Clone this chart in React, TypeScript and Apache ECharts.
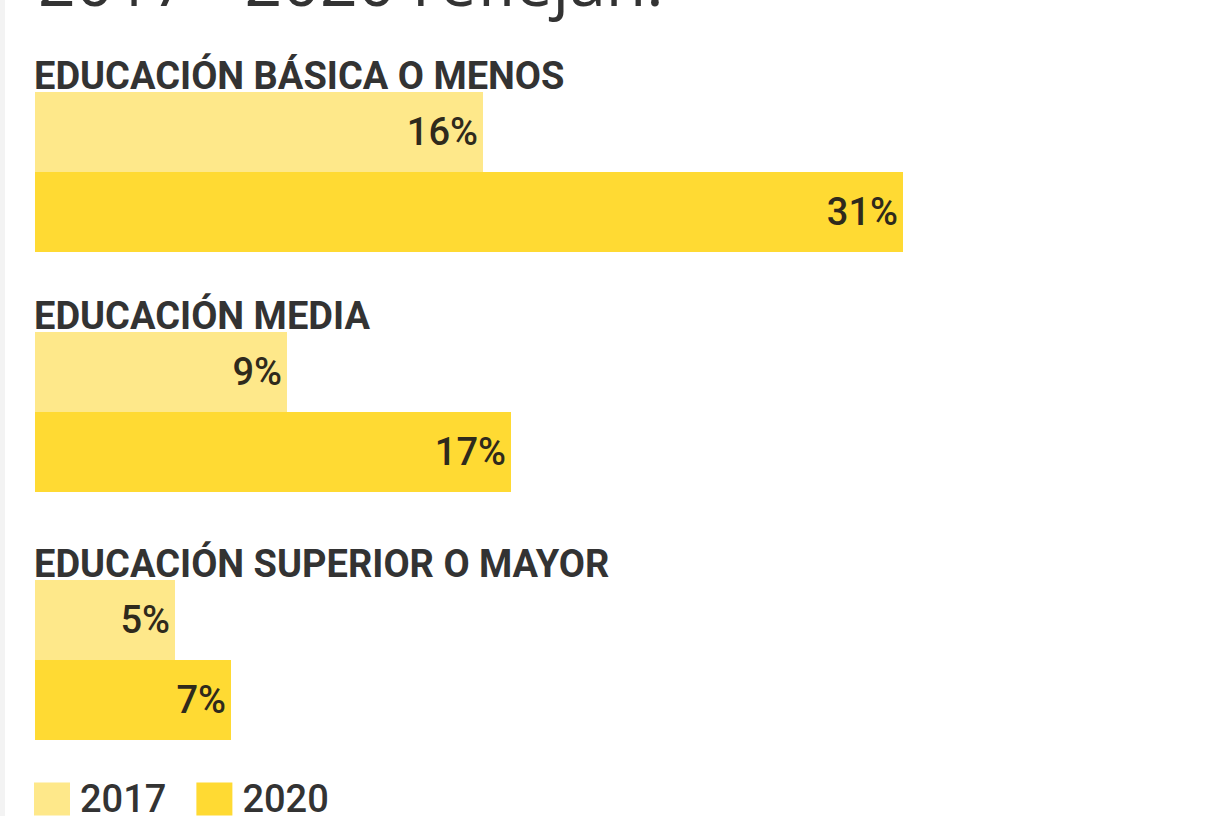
import React, { useEffect, useRef } from "react";
import * as echarts from "echarts";

const categories = ["EDUCACIÓN BÁSICA O MENOS", "EDUCACIÓN MEDIA", "EDUCACIÓN SUPERIOR O MAYOR"];
const years = ["2017", "2020"];
const values2017 = [16, 9, 5];
const values2020 = [31, 17, 7];
const headline = "2017 - 2020 reflejan.";

const COLOR_2017 = "#FEE88A";
const COLOR_2020 = "#FFDA33";
const TEXT = "#333333";
const gridTops = [92, 332, 580];

export default function App() {
  const ref = useRef<HTMLDivElement>(null);
  useEffect(() => {
    if (!ref.current) return;
    const chart = echarts.init(ref.current, null, { renderer: "svg" });
    const grids = gridTops.map((t) => ({ left: 35, top: t, width: 1189, height: 160 }));
    const xAxes = gridTops.map((_, i) => ({
      type: "value", gridIndex: i, min: 0, max: 42, show: false,
    }));
    const yAxes = gridTops.map((_, i) => ({
      type: "category", gridIndex: i, data: [categories[i]], inverse: true, show: false,
    }));
    const label = {
      show: true, position: "insideRight", distance: 5, formatter: "{c}%",
      fontSize: 38, fontWeight: 500, fontFamily: "Roboto", color: "#2f2a1c",
    };
    const series: any[] = [];
    categories.forEach((_, i) => {
      series.push({
        type: "bar", name: years[0], xAxisIndex: i, yAxisIndex: i,
        data: [values2017[i]], barWidth: 80, barGap: "0%", barCategoryGap: "0%",
        itemStyle: { color: COLOR_2017 }, label,
      });
      series.push({
        type: "bar", name: years[1], xAxisIndex: i, yAxisIndex: i,
        data: [values2020[i]], barWidth: 80, barGap: "0%", barCategoryGap: "0%",
        itemStyle: { color: COLOR_2020 }, label,
      });
    });
    chart.setOption({
      animation: false,
      color: [COLOR_2017, COLOR_2020],
      title: categories.map((c, i) => ({
        text: c, left: 34, top: gridTops[i] - 35, padding: 0,
        textStyle: { fontSize: 38, fontWeight: "bold", fontFamily: "Roboto", color: TEXT },
      })),
      legend: {
        data: years, left: 34, top: 780, padding: 0, itemWidth: 36, itemHeight: 33, itemGap: 30,
        icon: "rect", selectedMode: false,
        textStyle: { fontSize: 38, fontFamily: "Roboto", fontWeight: 500, color: TEXT, padding: [10, 0, 0, 5] },
      },
      graphic: [
        { type: "rect", shape: { x: 0, y: 0, width: 5, height: 816 }, style: { fill: "#f3f3f3" } },
        {
          type: "text", x: 38, y: 13,
          style: { text: headline, fontSize: 66, fontFamily: "Open Sans", fill: TEXT, verticalAlign: "bottom" },
        },
      ],
      grid: grids,
      xAxis: xAxes,
      yAxis: yAxes,
      series,
    });
    return () => chart.dispose();
  }, []);
  return <div ref={ref} style={{ position: "fixed", left: 0, top: 0, width: 1211, height: 816, background: "#fff" }} />;
}
